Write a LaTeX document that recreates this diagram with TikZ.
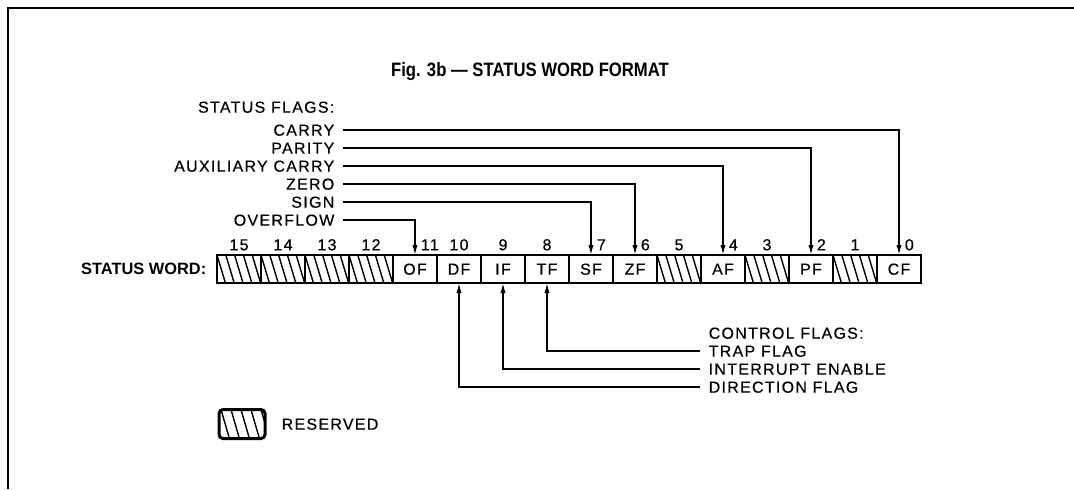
\documentclass[tikz,border=0pt]{standalone}
\usepackage{fontspec}
\setmainfont{Liberation Sans}
\newfontfamily\lblfont{Liberation Sans}[LetterSpace=8,FakeBold=0.4]
\newfontfamily\titlefont{Liberation Sans}[Ligatures=TeX,FakeStretch=0.86]
\usepackage{tikz}
\usetikzlibrary{arrows.meta,positioning}

\begin{document}
\begin{tikzpicture}[x=0.5pt, y=-0.5pt, line width=0.7pt,
  every node/.style={font=\lblfont\fontsize{8}{10}\selectfont, inner sep=0pt, text height=5.7pt, text depth=0pt},
  cell/.style={draw, line width=0.9pt, outer sep=0pt, minimum width=22pt, minimum height=14pt},
  flag/.style={inner xsep=4pt},
  head/.style={font=\bfseries\fontsize{8.2}{10}\selectfont, text height=5.9pt},
  link/.style={-{Latex[length=5pt,width=2.6pt]}}]
\useasboundingbox (0,0) rectangle (1074,489);
\draw[line width=0.9pt] (1074,8) -- (8,8) -- (8,489);
\node[head, font=\titlefont\bfseries\fontsize{9.7}{12}\selectfont, text height=7pt] (title) at (530,69) {Fig. 3b --- STATUS WORD FORMAT};
% register
\node[head, anchor=east] (sword) at (207,269) {STATUS WORD:};
\node[cell] (b15) at (239,269) {};
\node[cell] (b14) [right=0pt of b15] {};
\node[cell] (b13) [right=0pt of b14] {};
\node[cell] (b12) [right=0pt of b13] {};
\node[cell] (b11) [right=0pt of b12] {OF};
\node[cell] (b10) [right=0pt of b11] {DF};
\node[cell] (b9) [right=0pt of b10] {IF};
\node[cell] (b8) [right=0pt of b9] {TF};
\node[cell] (b7) [right=0pt of b8] {SF};
\node[cell] (b6) [right=0pt of b7] {ZF};
\node[cell] (b5) [right=0pt of b6] {};
\node[cell] (b4) [right=0pt of b5] {AF};
\node[cell] (b3) [right=0pt of b4] {};
\node[cell] (b2) [right=0pt of b3] {PF};
\node[cell] (b1) [right=0pt of b2] {};
\node[cell] (b0) [right=0pt of b1] {CF};
\foreach \c in {b15,b14,b13,b12,b5,b3,b1} {
  \begin{scope}
    \clip (\c.south west) rectangle (\c.north east);
    \foreach \k in {-1,...,5}
      \draw ([xshift=\k*4.4pt]\c.north west) -- ([xshift=\k*4.4pt+4.2pt]\c.south west);
  \end{scope}
}
\draw[line width=1.4pt] (b15.north west) rectangle (b0.south east);
% bit numbers
\foreach \b in {15,14,13,12,10,9,8,5,3,1}
  \node (n\b) [above=2pt of b\b] {\b};
\foreach \b in {11,7,6,4,2,0}
  \node[anchor=south west] (n\b) [above right=2pt and 2.6pt of b\b.north] {\b};
% status flags
\node[anchor=east] (sflags) at (335,107) {STATUS FLAGS:};
\node[flag, anchor=east] (carry) at (343,130) {CARRY};
\node[flag, anchor=east] (parity) at (343,148) {PARITY};
\node[flag, anchor=east] (aux) at (343,166) {AUXILIARY CARRY};
\node[flag, anchor=east] (zero) at (343,184) {ZERO};
\node[flag, anchor=east] (sign) at (343,202) {SIGN};
\node[flag, anchor=east] (ovf) at (343,220) {OVERFLOW};
\draw[link] (carry) -| (b0);
\draw[link] (parity) -| (b2);
\draw[link] (aux) -| (b4);
\draw[link] (zero) -| (b6);
\draw[link] (sign) -| (b7);
\draw[link] (ovf) -| (b11);
% control flags
\node[anchor=west] (cflags) at (708,333) {CONTROL FLAGS:};
\node[flag, anchor=west] (trap) at (700,351) {TRAP FLAG};
\node[flag, anchor=west] (intr) at (700,369) {INTERRUPT ENABLE};
\node[flag, anchor=west] (dirn) at (700,387) {DIRECTION FLAG};
\draw[link] (trap) -| (b8);
\draw[link] (intr) -| (b9);
\draw[link] (dirn) -| (b10);
% legend
\node[cell, line width=1.5pt, rounded corners=2pt, minimum width=23pt, minimum height=14.5pt] (rsvbox) at (242,424) {};
\begin{scope}
  \clip (rsvbox.south west) rectangle (rsvbox.north east);
  \foreach \k in {0,...,4}
    \draw ([xshift=\k*5pt+1pt]rsvbox.north west) -- ([xshift=\k*5pt+5.2pt]rsvbox.south west);
\end{scope}
\node[anchor=west] (rsvtxt) [right=8pt of rsvbox] {RESERVED};
\end{tikzpicture}
\end{document}
